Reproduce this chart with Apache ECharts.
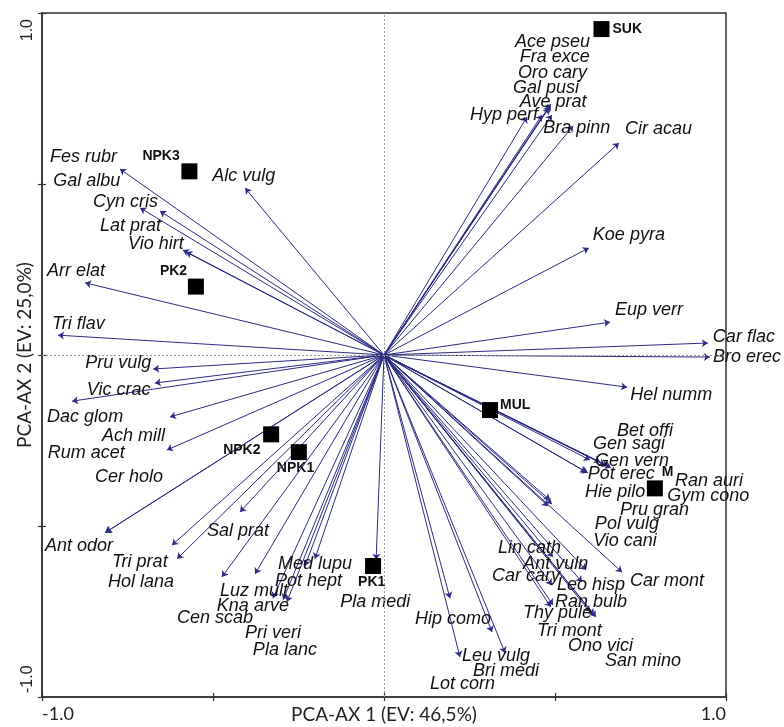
<!DOCTYPE html>
<html>
<head>
<meta charset="utf-8">
<script src="https://cdn.jsdelivr.net/npm/echarts@6/dist/echarts.min.js"></script>
<style>
  html, body { margin: 0; padding: 0; background: #fff; }
  #chart { width: 784px; height: 727px; }
</style>
</head>
<body>
<div id="chart"></div>
<script>
// Species loadings on the first two PCA axes
const species = [
  'Ace pseu','Fra exce','Oro cary','Gal pusi','Ave prat','Hyp perf','Bra pinn','Cir acau',
  'Koe pyra','Eup verr','Car flac','Bro erec','Hel numm',
  'Bet offi','Gen sagi','Gen vern','Pot erec','Ran auri','Hie pilo','Gym cono','Pru gran','Pol vulg','Vio cani',
  'Car mont','Lin cath','Ant vuln','Car cary','Leo hisp','Ran bulb','Thy pule','Tri mont','Ono vici','San mino',
  'Hip como','Leu vulg','Bri medi','Lot corn','Pla medi',
  'Ant odor','Tri prat','Hol lana','Sal prat','Cen scab','Luz mult','Kna arve','Pri veri','Pla lanc','Pot hept','Med lupu',
  'Cer holo','Tri flav','Pru vulg','Vic crac','Dac glom','Ach mill','Rum acet',
  'Fes rubr','Gal albu','Cyn cris','Lat prat','Vio hirt','Alc vulg','Arr elat'
];
const ax1 = [
  0.488, 0.482, 0.491, 0.462, 0.485, 0.418, 0.553, 0.687,
  0.599, 0.661, 0.947, 0.953, 0.711,
  0.664, 0.602, 0.655, 0.596, 0.646, 0.591, 0.632, 0.491, 0.485, 0.480,
  0.696, 0.494, 0.591, 0.491, 0.579, 0.494, 0.488, 0.614, 0.602, 0.620,
  0.193, 0.222, 0.354, 0.316, -0.023,
  -0.816, -0.620, -0.605, -0.421, -0.474, -0.377, -0.325, -0.295, -0.284, -0.231, -0.202,
  -0.813, -0.953, -0.675, -0.670, -0.912, -0.626, -0.635,
  -0.772, -0.713, -0.655, -0.588, -0.579, -0.406, -0.874
];
const ax2 = [
  0.734, 0.722, 0.702, 0.702, 0.728, 0.696, 0.670, 0.620,
  0.313, 0.096, 0.035, -0.006, -0.094,
  -0.330, -0.307, -0.325, -0.345, -0.322, -0.342, -0.313, -0.436, -0.424, -0.442,
  -0.635, -0.591, -0.629, -0.673, -0.664, -0.731, -0.737, -0.760, -0.751, -0.766,
  -0.711, -0.883, -0.871, -0.810, -0.599,
  -0.520, -0.556, -0.596, -0.459, -0.649, -0.640, -0.711, -0.716, -0.722, -0.617, -0.596,
  -0.518, 0.058, -0.041, -0.082, -0.135, -0.181, -0.278,
  0.544, 0.430, 0.421, 0.307, 0.301, 0.488, 0.211
];

// Sample (treatment) scores
const samples = ['SUK', 'NPK3', 'PK2', 'NPK2', 'NPK1', 'MUL', 'M', 'PK1'];
const sampleAx1 = [0.636, -0.569, -0.550, -0.330, -0.249, 0.310, 0.792, -0.032];
const sampleAx2 = [0.953, 0.537, 0.200, -0.232, -0.284, -0.161, -0.390, -0.617];

// Axis tick labels (only the ends are labelled)
const tickLabels = ['-1.0', '1.0'];
const axisTitles = ['PCA-AX 1 (EV: 46,5%)', 'PCA-AX 2 (EV: 25,0%)'];

// Label placement in pixels: [left edge - tip x, middle - tip y]
const speciesLabelShift = {
  'Ace pseu': [-36, -62], 'Fra exce': [-29, -51], 'Oro cary': [-34, -42], 'Gal pusi': [-29, -27],
  'Ave prat': [-30, -4], 'Hyp perf': [-57, -2], 'Bra pinn': [-30, 2], 'Cir acau': [6, -14],
  'Koe pyra': [4, -13], 'Eup verr': [5, -12], 'Car flac': [5, -6], 'Bro erec': [3, 0], 'Hel numm': [3, 8],
  'Bet offi': [6, -37], 'Gen sagi': [3, -16], 'Gen vern': [-13, -5], 'Pot erec': [0, 1],
  'Ran auri': [70, 16], 'Hie pilo': [-1, 20], 'Gym cono': [67, 34], 'Pru gran': [68, 6],
  'Pol vulg': [45, 24], 'Vio cani': [45, 35],
  'Car mont': [8, 9], 'Lin cath': [-55, -9], 'Ant vuln': [-63, -6], 'Car cary': [-60, -9],
  'Leo hisp': [-25, 3], 'Ran bulb': [2, -3], 'Thy pule': [-28, 6], 'Tri mont': [-57, 16],
  'Ono vici': [-22, 34], 'San mino': [9, 44],
  'Hip como': [-35, 21], 'Leu vulg': [2, -1], 'Bri medi': [-32, 18], 'Lot corn': [-62, 52], 'Pla medi': [-36, 42],
  'Ant odor': [-60, 13], 'Tri prat': [-60, 17], 'Hol lana': [-69, 23], 'Sal prat': [-33, 19],
  'Cen scab': [-45, 41], 'Luz mult': [-35, 17], 'Kna arve': [-56, 8], 'Pri veri': [-38, 33],
  'Pla lanc': [-34, 48], 'Pot hept': [-30, 15], 'Med lupu': [-37, 5],
  'Cer holo': [-11, -55], 'Tri flav': [-6, -11], 'Pru vulg': [-68, -6], 'Vic crac': [-68, 7],
  'Dac glom': [-25, 16], 'Ach mill': [-68, 19], 'Rum acet': [-119, 3],
  'Fes rubr': [-70, -12], 'Gal albu': [-87, -27], 'Cyn cris': [-67, -9], 'Lat prat': [-83, -24],
  'Vio hirt': [-58, -8], 'Alc vulg': [-33, -12], 'Arr elat': [-38, -12]
};
const sampleLabelShift = {
  'SUK': [11, 0], 'NPK3': [-47, -15], 'PK2': [-36, -15], 'NPK2': [-48, 16],
  'NPK1': [-22, 16], 'MUL': [10, -5], 'M': [7, -16], 'PK1': [-15, 16]
};

const arrowColor = '#2b2b85';
const inkColor = '#111111';
const frameColor = '#333';

const arrowData = species.map((n, i) => ({ name: n, coords: [[0, 0], [ax1[i], ax2[i]]] }));

const speciesLabelData = species.map((n, i) => ({
  name: n,
  value: [ax1[i], ax2[i]],
  label: { offset: speciesLabelShift[n] || [4, 0] }
}));

const sampleData = samples.map((n, i) => ({
  name: n,
  value: [sampleAx1[i], sampleAx2[i]],
  label: { offset: sampleLabelShift[n] || [10, 0] }
}));

const endLabel = v => (v === -1 ? tickLabels[0] : (v === 1 ? tickLabels[1] : ''));

// second pair of axes only adds the inward half of each tick mark
const innerTicks = {
  type: 'value', min: -1, max: 1, interval: 0.5,
  axisLine: { show: false, onZero: false },
  axisTick: { show: true, inside: true, length: 4, lineStyle: { color: frameColor, width: 1.2 } },
  axisLabel: { show: false },
  splitLine: { show: false }
};

const chart = echarts.init(document.getElementById('chart'), null, { renderer: 'canvas' });

chart.setOption({
  animation: false,
  backgroundColor: '#ffffff',
  grid: {
    left: 42, top: 13, width: 684, height: 684,
    outerBoundsMode: 'none', containLabel: false,
    show: true, borderColor: frameColor, borderWidth: 1.5, backgroundColor: 'transparent'
  },
  xAxis: [{
    type: 'value', min: -1, max: 1, interval: 0.5,
    axisLine: { show: true, onZero: false, lineStyle: { color: frameColor, width: 1.5 } },
    axisTick: { show: true, length: 4, lineStyle: { color: frameColor, width: 1.2 } },
    splitLine: { show: false },
    axisLabel: {
      formatter: endLabel,
      alignMinLabel: 'left', alignMaxLabel: 'right',
      fontFamily: 'Lato', fontSize: 18, color: '#222', margin: 8
    },
    name: axisTitles[0], nameLocation: 'middle', nameGap: 8, nameMoveOverlap: false,
    nameTextStyle: { fontFamily: 'Lato', fontSize: 19, color: '#222', verticalAlign: 'top' }
  }, Object.assign({ position: 'bottom' }, innerTicks)],
  yAxis: [{
    type: 'value', min: -1, max: 1, interval: 0.5,
    axisLine: { show: true, onZero: false, lineStyle: { color: frameColor, width: 1.5 } },
    axisTick: { show: true, length: 4, lineStyle: { color: frameColor, width: 1.2 } },
    splitLine: { show: false },
    axisLabel: {
      formatter: endLabel,
      rotate: 90,
      alignMinLabel: 'left', alignMaxLabel: 'right',
      padding: [0, 6, 0, 4],
      fontFamily: 'Liberation Sans', fontSize: 16, color: '#222', margin: 6
    },
    name: axisTitles[1], nameLocation: 'middle', nameGap: 8, nameRotate: 90, nameMoveOverlap: false,
    nameTextStyle: { fontFamily: 'Lato', fontSize: 19, color: '#222' }
  }, Object.assign({ position: 'left' }, innerTicks)],
  series: [
    {
      // dotted zero lines through the origin
      type: 'scatter', data: [], silent: true,
      markLine: {
        silent: true, symbol: 'none', label: { show: false }, animation: false,
        lineStyle: { color: '#9a9a9a', type: [2, 2], width: 1 },
        data: [{ xAxis: 0 }, { yAxis: 0 }]
      },
      z: 1
    },
    {
      type: 'lines', coordinateSystem: 'cartesian2d', silent: true,
      symbol: ['none', 'arrow'], symbolSize: 6,
      lineStyle: { color: arrowColor, width: 1, opacity: 1, curveness: 0 },
      data: arrowData,
      z: 2
    },
    {
      type: 'scatter', silent: true, symbolSize: 2,
      itemStyle: { color: 'rgba(0,0,0,0)', opacity: 1 },
      data: speciesLabelData,
      label: {
        show: true, position: 'inside', align: 'left', verticalAlign: 'middle',
        formatter: p => p.name,
        fontFamily: 'Liberation Sans', fontStyle: 'italic', fontSize: 18, color: inkColor
      },
      z: 3
    },
    {
      type: 'scatter', silent: true, symbol: 'rect', symbolSize: 16,
      itemStyle: { color: '#000', opacity: 1 },
      data: sampleData,
      label: {
        show: true, position: 'inside', align: 'left', verticalAlign: 'middle',
        formatter: p => p.name,
        fontFamily: 'Liberation Sans', fontWeight: 'bold', fontSize: 14, color: '#111'
      },
      z: 4
    }
  ]
});
</script>
</body>
</html>
